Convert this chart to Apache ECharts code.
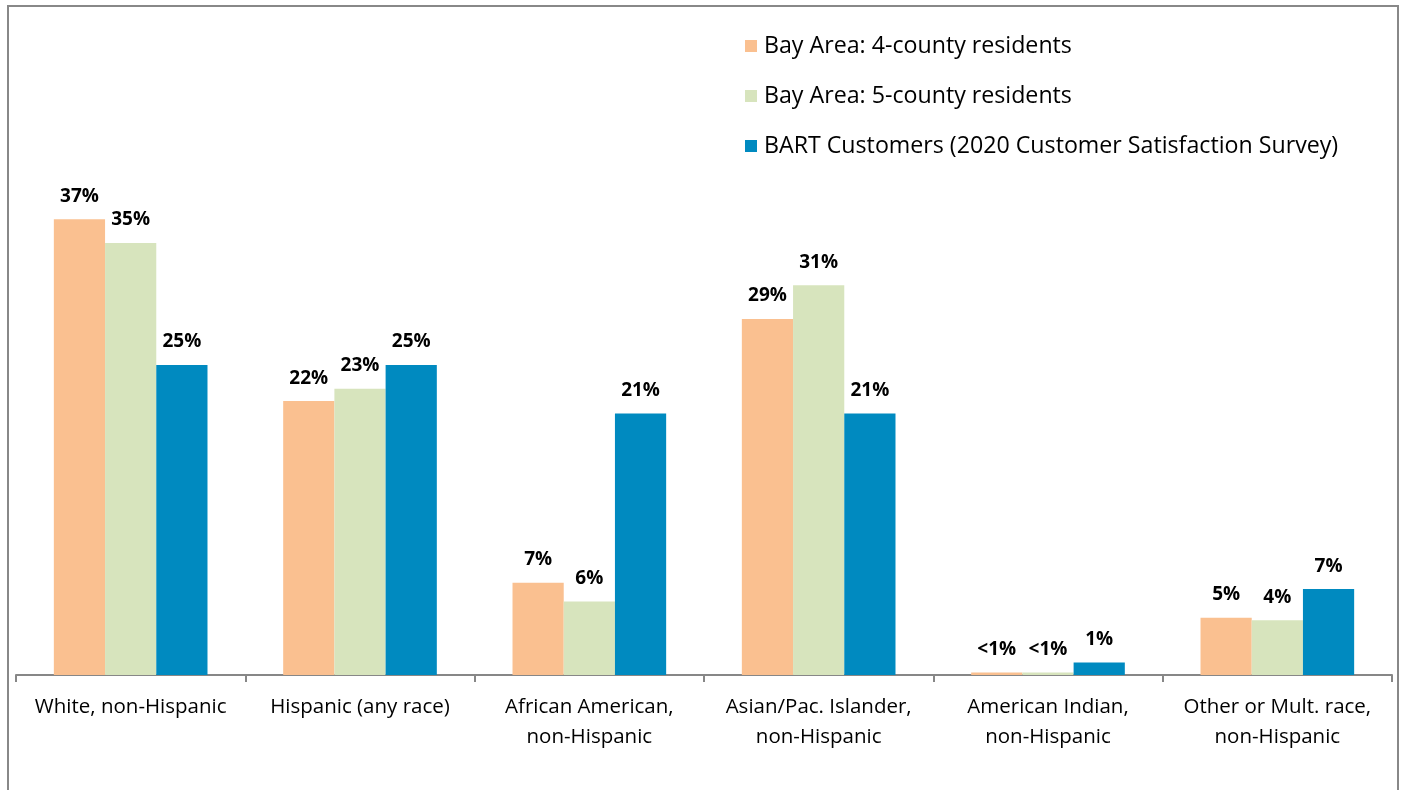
<!DOCTYPE html>
<html>
<head>
<meta charset="utf-8">
<script src="https://cdn.jsdelivr.net/npm/echarts@6/dist/echarts.min.js"></script>
<style>
  html, body { margin: 0; padding: 0; background: #fff; }
  #chart { width: 1405px; height: 790px; }
</style>
</head>
<body>
<div id="chart"></div>
<script>
var categories = ['White, non-Hispanic', 'Hispanic (any race)', 'African American,\nnon-Hispanic',
    'Asian/Pac. Islander,\nnon-Hispanic', 'American Indian,\nnon-Hispanic', 'Other or Mult. race,\nnon-Hispanic']
var seriesNames = ['Bay Area: 4-county residents', 'Bay Area: 5-county residents',
    'BART Customers (2020 Customer Satisfaction Survey)']
var county4 = [36.6, 22.0, 7.4, 28.6, 0.2, 4.6]
var county5 = [34.7, 23.0, 5.9, 31.3, 0.2, 4.4]
var bart = [24.9, 24.9, 21.0, 21.0, 1.0, 6.9]
var county4Labels = ['37%', '22%', '7%', '29%', '<1%', '5%']
var county5Labels = ['35%', '23%', '6%', '31%', '<1%', '4%']
var bartLabels = ['25%', '25%', '21%', '21%', '1%', '7%']
var colors = ['#FAC090', '#D7E4BD', '#008AC0']

var font = 'Open Sans'
var myChart = echarts.init(document.getElementById('chart'))

function makeSeries(name, data, labels, color) {
    return {
        name: name,
        type: 'bar',
        data: data,
        itemStyle: { color: color },
        barGap: '0%',
        barCategoryGap: '33%',
        label: {
            show: true,
            position: 'top',
            distance: 13,
            fontFamily: font,
            fontWeight: 'bold',
            fontSize: 19,
            lineHeight: 20,
            color: '#000',
            formatter: function (p) { return labels[p.dataIndex] }
        }
    }
}

myChart.setOption({
    animation: false,
    graphic: [{
        type: 'rect',
        shape: { x: 8, y: 6, width: 1390, height: 800 },
        style: { fill: 'none', stroke: '#888', lineWidth: 2 }
    }],
    legend: {
        orient: 'vertical',
        left: 740,
        top: 29,
        itemWidth: 12,
        itemHeight: 12,
        itemGap: 26,
        icon: 'rect',
        textStyle: { fontFamily: font, fontSize: 23.2, lineHeight: 24, color: '#000', padding: [0, 0, 0, 2] },
        data: seriesNames
    },
    grid: { left: 16, right: 13, top: 177, bottom: 115 },
    xAxis: {
        type: 'category',
        data: categories,
        axisLine: { lineStyle: { color: '#878787', width: 2 } },
        axisTick: { show: true, length: 7, lineStyle: { color: '#878787', width: 2 } },
        axisLabel: {
            interval: 0,
            fontFamily: font, fontSize: 20.5, color: '#000', lineHeight: 30, margin: 17
        }
    },
    yAxis: {
        type: 'value',
        min: 0,
        max: 40,
        show: false,
        splitLine: { show: false }
    },
    series: [
        makeSeries(seriesNames[0], county4, county4Labels, colors[0]),
        makeSeries(seriesNames[1], county5, county5Labels, colors[1]),
        makeSeries(seriesNames[2], bart, bartLabels, colors[2])
    ]
})
</script>
</body>
</html>
